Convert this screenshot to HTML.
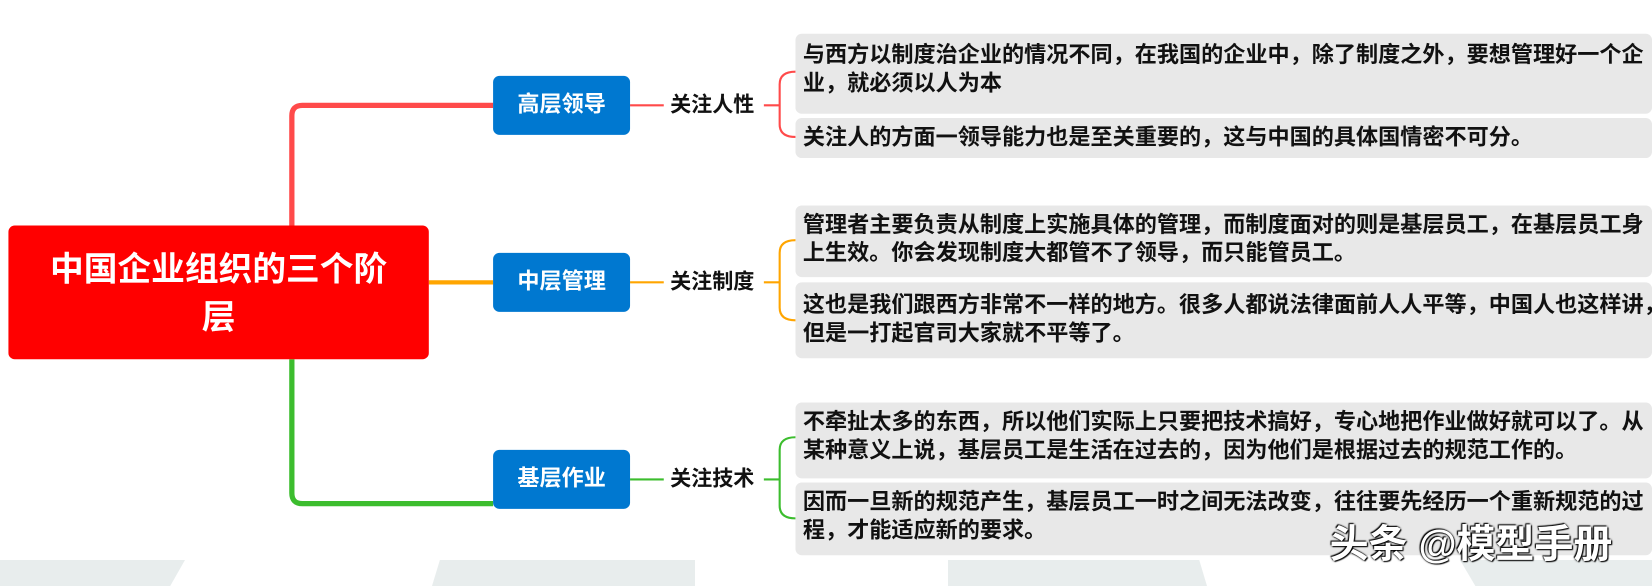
<!DOCTYPE html>
<html><head><meta charset="utf-8"><style>
body{margin:0;width:1652px;height:586px;background:#fff;position:relative;overflow:hidden;font-family:"Liberation Sans","Noto Sans CJK SC",sans-serif}
.a{position:absolute}
#c{position:absolute;left:0;top:0;width:1568px;height:556px;transform:scale(1.0536);transform-origin:0 0}
.root{left:8px;top:214px;width:399px;height:127px;background:#ff0000;border-radius:6px;color:#fff;font-weight:bold;font-size:32px;line-height:46px;text-align:center;display:flex;align-items:center;justify-content:center;padding:0 30px;box-sizing:border-box}
.n{left:468px;width:130px;height:56px;background:#0078d0;border-radius:6px;color:#fff;font-weight:bold;font-size:21px;line-height:56px;text-align:center}
.l{left:636px;font-weight:bold;font-size:20px;color:#111;line-height:22px;white-space:nowrap}
.b{left:755px;width:813px;background:#e8e8e8;border-radius:6px;font-weight:bold;font-size:21px;color:#111;line-height:27px;padding:7px 7px;box-sizing:border-box;white-space:nowrap;overflow:hidden}
.g{top:560px;height:26px;background:#e8eded}
</style></head><body>
<div class="a g" style="left:0;width:185px;clip-path:polygon(0 0,100% 0,92% 100%,0 100%)"></div>
<div class="a g" style="left:432px;width:263px;clip-path:polygon(3% 0,100% 0,100% 100%,0 100%)"></div>
<div class="a g" style="left:948px;width:259px;clip-path:polygon(0 0,97% 0,100% 100%,0 100%)"></div>
<div class="a g" style="left:1460px;width:192px;clip-path:polygon(0 0,100% 0,100% 100%,8% 100%)"></div>
<div id="c">
<svg class="a" style="left:0;top:0" width="1568" height="556">
<path d="M277 214 V110 Q277 100 287 100 H468" stroke="#ff4a4a" stroke-width="5" fill="none"/>
<path d="M407 268 H468" stroke="#ffa500" stroke-width="4" fill="none"/>
<path d="M277 341 V468 Q277 478 287 478 H468" stroke="#3cbd2e" stroke-width="5" fill="none"/>
<path d="M598 100 H630 M725 100 H740" stroke="#ff4a4a" stroke-width="2" fill="none"/>
<path d="M755 68 Q740 68 740 80 V118 Q740 130 755 130" stroke="#ff4a4a" stroke-width="2" fill="none"/>
<path d="M598 268 H630 M725 268 H740" stroke="#ffa500" stroke-width="2" fill="none"/>
<path d="M755 228 Q740 228 740 240 V292 Q740 304 755 304" stroke="#ffa500" stroke-width="2" fill="none"/>
<path d="M598 455 H630 M725 455 H740" stroke="#3cbd2e" stroke-width="2" fill="none"/>
<path d="M755 415 Q740 415 740 427 V480 Q740 492 755 492" stroke="#3cbd2e" stroke-width="2" fill="none"/>
</svg>
<div class="a root">中国企业组织的三个阶层</div>
<div class="a n" style="top:72px">高层领导</div>
<div class="a n" style="top:240px">中层管理</div>
<div class="a n" style="top:427px">基层作业</div>
<div class="a l" style="top:89px">关注人性</div>
<div class="a l" style="top:257px">关注制度</div>
<div class="a l" style="top:444px">关注技术</div>
<div class="a b" style="top:32px;height:76px">与西方以制度治企业的情况不同，在我国的企业中，除了制度之外，要想管理好一个企<br>业，就必须以人为本</div>
<div class="a b" style="top:112px;height:38px;padding-top:5px">关注人的方面一领导能力也是至关重要的，这与中国的具体国情密不可分。</div>
<div class="a b" style="top:195px;height:68px;padding-top:5px">管理者主要负责从制度上实施具体的管理，而制度面对的则是基层员工，在基层员工身<br>上生效。你会发现制度大都管不了领导，而只能管员工。</div>
<div class="a b" style="top:268px;height:72px;padding-top:8px">这也是我们跟西方非常不一样的地方。很多人都说法律面前人人平等，中国人也这样讲，<br>但是一打起官司大家就不平等了。</div>
<div class="a b" style="top:382px;height:72px;padding-top:5px">不牵扯太多的东西，所以他们实际上只要把技术搞好，专心地把作业做好就可以了。从<br>某种意义上说，基层员工是生活在过去的，因为他们是根据过去的规范工作的。</div>
<div class="a b" style="top:458px;height:69px;padding-top:5px">因而一旦新的规范产生，基层员工一时之间无法改变，往往要先经历一个重新规范的过<br>程，才能适应新的要求。</div>
<div class="a" style="left:1262px;top:494px;font-size:37px;color:#fff;font-weight:bold;line-height:46px;white-space:nowrap;text-shadow:0 0 2px #000,1px 1px 1px #000,-1px -1px 1px #000">头条 @模型手册</div>
</div>
</body></html>
